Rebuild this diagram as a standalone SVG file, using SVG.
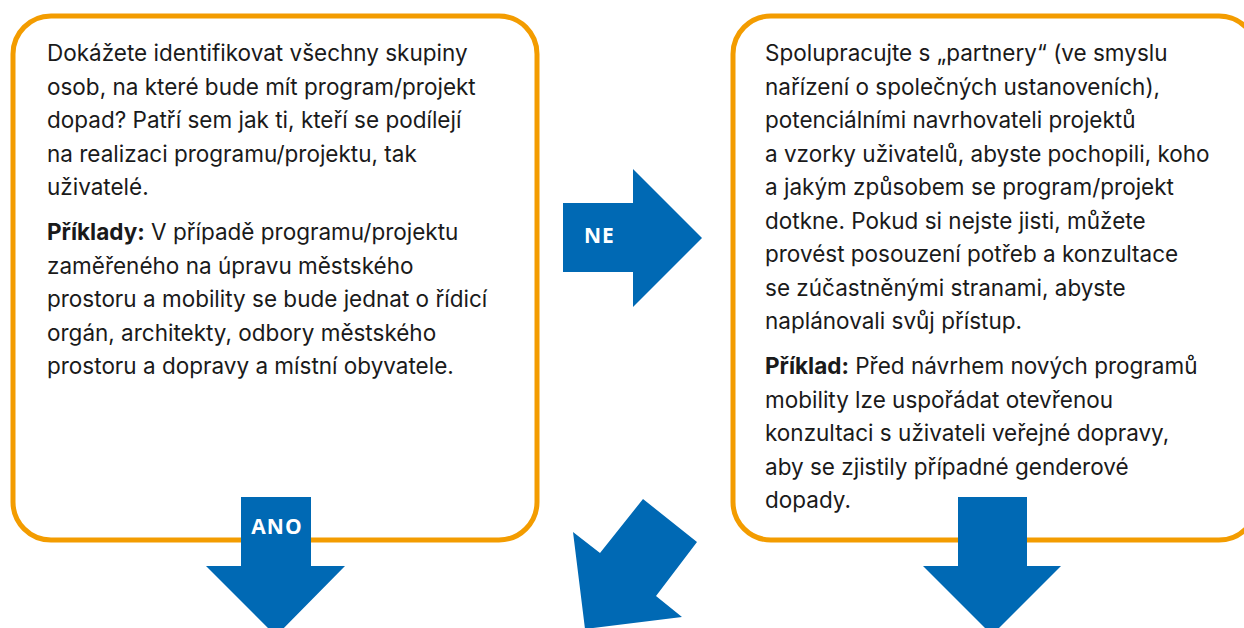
<svg xmlns="http://www.w3.org/2000/svg" width="1244" height="628" viewBox="0 0 1244 628">
<style>
.box{fill:#fff;stroke:#F39C00;stroke-width:5}
.t{font-family:Inter,"Noto Sans",sans-serif;font-size:22.5px;fill:#1a1a1a}
.b{font-weight:700}
.arr{fill:#0069B4}
.lbl{font-family:"Open Sans","Noto Sans",sans-serif;font-weight:700;font-size:21px;fill:#fff;letter-spacing:1px}
</style>
<rect width="1244" height="628" fill="#fff"/>
<g id="box-left">
<rect class="box" x="13" y="16" width="524" height="524" rx="38"/>
<text class="t" x="47">
<tspan x="47" y="61">Dokážete identifikovat všechny skupiny</tspan>
<tspan x="47" y="94.5">osob, na které bude mít program/projekt</tspan>
<tspan x="47" y="128">dopad? Patří sem jak ti, kteří se podílejí</tspan>
<tspan x="47" y="161.5">na realizaci programu/projektu, tak</tspan>
<tspan x="47" y="195">uživatelé.</tspan>
<tspan x="47" y="240"><tspan class="b">Příklady:</tspan> V případě programu/projektu</tspan>
<tspan x="47" y="273.5">zaměřeného na úpravu městského</tspan>
<tspan x="47" y="307">prostoru a mobility se bude jednat o řídicí</tspan>
<tspan x="47" y="340.5">orgán, architekty, odbory městského</tspan>
<tspan x="47" y="374">prostoru a dopravy a místní obyvatele.</tspan>
</text>
</g>
<g id="box-right">
<rect class="box" x="733" y="16" width="524" height="524" rx="38"/>
<text class="t" x="765">
<tspan x="765" y="61">Spolupracujte s „partnery“ (ve smyslu</tspan>
<tspan x="765" y="94.5">nařízení o společných ustanoveních),</tspan>
<tspan x="765" y="128">potenciálními navrhovateli projektů</tspan>
<tspan x="765" y="161.5">a vzorky uživatelů, abyste pochopili, koho</tspan>
<tspan x="765" y="195">a jakým způsobem se program/projekt</tspan>
<tspan x="765" y="228.5">dotkne. Pokud si nejste jisti, můžete</tspan>
<tspan x="765" y="262">provést posouzení potřeb a konzultace</tspan>
<tspan x="765" y="295.5">se zúčastněnými stranami, abyste</tspan>
<tspan x="765" y="329">naplánovali svůj přístup.</tspan>
<tspan x="765" y="374"><tspan class="b">Příklad:</tspan> Před návrhem nových programů</tspan>
<tspan x="765" y="407.5">mobility lze uspořádat otevřenou</tspan>
<tspan x="765" y="441">konzultaci s uživateli veřejné dopravy,</tspan>
<tspan x="765" y="474.5">aby se zjistily případné genderové</tspan>
<tspan x="765" y="508">dopady.</tspan>
</text>
</g>
<g id="connectors">
<g id="arrow-ne">
<polygon class="arr" points="563,203 633,203 633,169 702,238 633,307 633,272 563,272"/>
<text class="lbl" x="584" y="243">NE</text>
</g>
<g id="arrow-ano">
<polygon class="arr" points="241,497 311,497 311,566 345,566 276,636 206,566 241,566"/>
<text class="lbl" x="277" y="534" text-anchor="middle">ANO</text>
</g>
<polygon id="arrow-diag" class="arr" points="643,499 697,542 656,596 682,617 585,629 573,532 600,553"/>
<polygon id="arrow-right-down" class="arr" points="958,497 1027,497 1027,566 1061,566 992,635 923,566 958,566"/>
</g>
</svg>
